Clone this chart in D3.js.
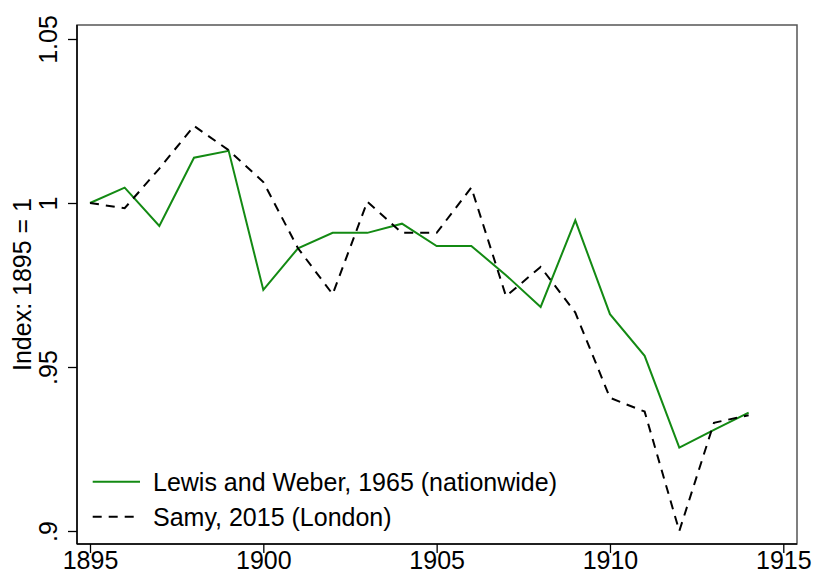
<!DOCTYPE html>
<html>
<head>
<meta charset="utf-8">
<script src="https://cdn.jsdelivr.net/npm/d3@7"></script>
<style>
  html, body { margin: 0; padding: 0; background: #fff; }
  svg { display: block; font-family: "Liberation Sans", Arial, Helvetica, sans-serif; }
</style>
</head>
<body>
<svg id="chart" width="814" height="575"></svg>
<script>
// Price index, 1895 = 1
const years = [1895, 1896, 1897, 1898, 1899, 1900, 1901, 1902, 1903, 1904,
               1905, 1906, 1907, 1908, 1909, 1910, 1911, 1912, 1913, 1914];
const lewisWeber = [1.000, 1.0047, 0.993, 1.0138, 1.0159, 0.9735, 0.9862, 0.9909, 0.9909, 0.9937,
                    0.9869, 0.9869, 0.978, 0.9683, 0.9947, 0.9661, 0.9534, 0.9254, 0.9308, 0.9361];
const samy = [1.000, 0.9984, 1.0105, 1.0235, 1.0161, 1.0064, 0.9862, 0.9722, 1.0004, 0.9909,
              0.9909, 1.0047, 0.9716, 0.9805, 0.9666, 0.9406, 0.9364, 0.900, 0.933, 0.9353];
const xTicks = [1895, 1900, 1905, 1910, 1915];
const yTicks = [0.9, 0.95, 1, 1.05];
const yTickLabels = [".9", ".95", "1", "1.05"];
const seriesNames = ["Lewis and Weber, 1965 (nationwide)", "Samy, 2015 (London)"];

const svg = d3.select("#chart");
const frame = { left: 77, right: 797, top: 25, bottom: 544 };
const green = "#138a13";
const fontSize = 25;

const x = d3.scaleLinear().domain([1895, 1915]).range([90, 783.3]);
const y = d3.scaleLinear().domain([0.9, 1.05]).range([531, 39]);

// plot region outline
svg.append("rect")
  .attr("x", frame.left).attr("y", frame.top)
  .attr("width", frame.right - frame.left).attr("height", frame.bottom - frame.top)
  .attr("fill", "none").attr("stroke", "#555").attr("stroke-width", 1.5);

// y axis
const yAxis = svg.append("g")
  .attr("transform", `translate(${frame.left},0)`)
  .call(d3.axisLeft(y).tickValues(yTicks).tickSize(9).tickPadding(0)
    .tickFormat((d, i) => yTickLabels[i]));
yAxis.select(".domain").remove();
yAxis.append("line").attr("x1", 0).attr("x2", 0)
  .attr("y1", frame.top).attr("y2", frame.bottom).attr("stroke", "#000").attr("stroke-width", 1.5);
yAxis.selectAll(".tick line").attr("stroke", "#000").attr("stroke-width", 1.3);
yAxis.selectAll(".tick text")
  .attr("font-size", fontSize).attr("fill", "#000")
  .attr("text-anchor", "middle")
  .attr("x", 0).attr("dy", 0)
  .attr("transform", "translate(-20,0) rotate(-90)");

// x axis
const xAxis = svg.append("g")
  .attr("transform", `translate(0,${frame.bottom})`)
  .call(d3.axisBottom(x).tickValues(xTicks).tickSize(9).tickPadding(0)
    .tickFormat(d3.format("d")));
xAxis.select(".domain").remove();
xAxis.append("line").attr("x1", frame.left).attr("x2", frame.right)
  .attr("y1", 0).attr("y2", 0).attr("stroke", "#000").attr("stroke-width", 1.5);
xAxis.selectAll(".tick line").attr("stroke", "#000").attr("stroke-width", 1.3);
xAxis.selectAll(".tick text")
  .attr("font-size", fontSize).attr("fill", "#000")
  .attr("dy", 0).attr("y", 25);

// y axis title
svg.append("text")
  .attr("transform", `translate(31,${(frame.top + frame.bottom) / 2}) rotate(-90)`)
  .attr("text-anchor", "middle")
  .attr("font-size", fontSize)
  .attr("fill", "#000")
  .text("Index: 1895 = 1");

// series lines
const line = d3.line().x((d, i) => x(years[i])).y(d => y(d));

svg.append("path").datum(lewisWeber)
  .attr("d", line).attr("fill", "none")
  .attr("stroke", green).attr("stroke-width", 2).attr("stroke-linejoin", "miter");

svg.append("path").datum(samy)
  .attr("d", line).attr("fill", "none")
  .attr("stroke", "#000").attr("stroke-width", 2)
  .attr("stroke-dasharray", "9,7");

// legend
const legend = svg.append("g");
const legendRows = [
  { name: seriesNames[0], stroke: green, dash: null, y: 481.7 },
  { name: seriesNames[1], stroke: "#000", dash: "9,7", y: 516.7 }
];
legendRows.forEach(r => {
  legend.append("line")
    .attr("x1", 92.7).attr("x2", 140).attr("y1", r.y).attr("y2", r.y)
    .attr("stroke", r.stroke).attr("stroke-width", 2)
    .attr("stroke-dasharray", r.dash);
  legend.append("text")
    .attr("x", 153).attr("y", r.y + 9)
    .attr("font-size", fontSize).attr("fill", "#000")
    .text(r.name);
});
</script>
</body>
</html>
